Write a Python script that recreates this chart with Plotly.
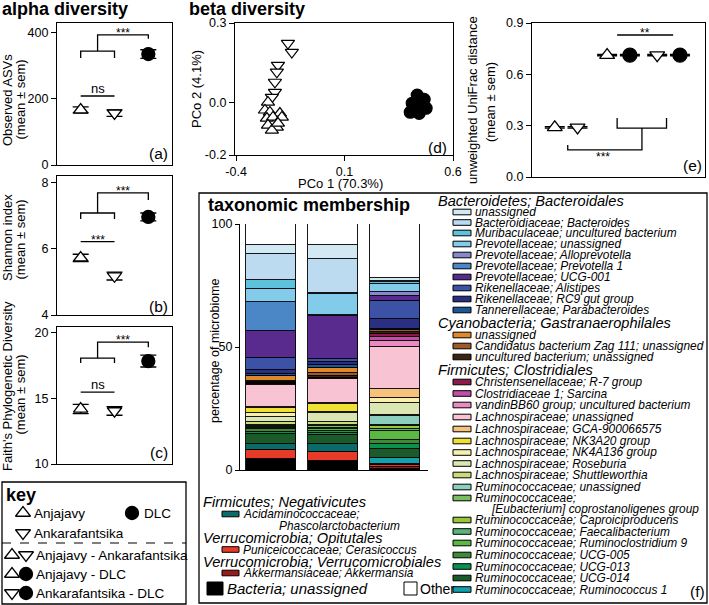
import plotly.graph_objects as go

W, H = 709, 605
FONT = "Liberation Sans"

# ================= (a)-(c) alpha diversity =================
site_names = ["Anjajavy", "Ankarafantsika", "DLC"]
site_pos = [1, 2, 3]
site_symbols = ["triangle-up", "triangle-down", "circle"]
site_fills = ["white", "white", "black"]

asv_mean = [167, 157, 336]
asv_sem = [9, 10, 13]
shannon_mean = [5.73, 5.18, 6.97]
shannon_sem = [0.11, 0.12, 0.12]
faith_mean = [14.2, 14.05, 17.85]
faith_sem = [0.35, 0.33, 0.45]

asv_ticks = [0, 200, 400]
shannon_ticks = [4, 6, 8]
faith_ticks = [10, 15, 20]

# significance bracket heights: pair line, leg bottom, leg top, bracket top, right-leg bottom
asv_sig = [209, 324, 345, 394, 382]
shannon_sig = [6.22, 6.91, 7.09, 7.70, 7.48]
faith_sig = [15.48, 17.70, 18.07, 19.29, 18.90]
pair_sig_labels = ["ns", "***", "ns"]
group_sig_labels = ["***", "***", "***"]

# ================= (d) beta diversity PCoA =================
anj_pc1 = [-0.253, -0.267, -0.244, -0.198, -0.258, -0.230, -0.189, -0.253, -0.212, -0.235, -0.207]
anj_pc2 = [0.000, -0.030, -0.038, -0.042, -0.061, -0.057, -0.057, -0.087, -0.095, -0.106, -0.080]
ank_pc1 = [-0.161, -0.143, -0.207, -0.212, -0.221, -0.221, -0.235]
ank_pc2 = [0.223, 0.189, 0.140, 0.114, 0.076, 0.038, 0.019]
dlc_pc1 = [0.435, 0.467, 0.412, 0.444, 0.403, 0.444, 0.476]
dlc_pc2 = [0.027, 0.011, -0.004, -0.019, -0.038, -0.042, -0.023]

# ================= (e) unweighted UniFrac =================
comp_names = ["Anjajavy - Ankarafantsika", "Anjajavy - DLC", "Ankarafantsika - DLC"]
comp_left_symbol = ["triangle-up", "triangle-up", "triangle-down"]
comp_left_fill = ["white", "white", "white"]
comp_right_symbol = ["triangle-down", "circle", "circle"]
comp_right_fill = ["white", "black", "black"]
comp_left_x = [1, 3.3, 5.5]
comp_right_x = [2, 4.3, 6.5]
unifrac_mean = [0.290, 0.712, 0.712]
unifrac_sem = [0.004, 0.004, 0.004]

# ================= (f) taxonomic membership =================
bar_sites = [0, 1, 2]
taxa = [
    "Bacteroidales unassigned", "Bacteroidiaceae; Bacteroides", "Muribaculaceae; uncultured bacterium",
    "Prevotellaceae; unassigned", "Prevotellaceae; Alloprevotella", "Prevotellaceae; Prevotella 1",
    "Prevotellaceae; UCG-001", "Rikenellaceae; Alistipes", "Rikenellaceae; RC9 gut group",
    "Tannerellaceae; Parabacteroides", "Gastranaerophilales unassigned",
    "Candidatus bacterium Zag 111; unassigned", "uncultured bacterium; unassigned",
    "Christensenellaceae; R-7 group", "Clostridiaceae 1; Sarcina", "vandinBB60 group; uncultured bacterium",
    "Lachnospiraceae; unassigned", "Lachnospiraceae; GCA-900066575", "Lachnospiraceae; NK3A20 group",
    "Lachnospiraceae; NK4A136 group", "Lachnospiraceae; Roseburia", "Lachnospiraceae; Shuttleworthia",
    "Ruminococcaceae; unassigned", "Ruminococcaceae; [Eubacterium] coprostanoligenes group",
    "Ruminococcaceae; Caproiciproducens", "Ruminococcaceae; Faecalibacterium",
    "Ruminococcaceae; Ruminoclostridium 9", "Ruminococcaceae; UCG-005", "Ruminococcaceae; UCG-013",
    "Ruminococcaceae; UCG-014", "Ruminococcaceae; Ruminococcus 1",
    "Acidaminococcaceae; Phascolarctobacterium", "Puniceicoccaceae; Cerasicoccus",
    "Akkermansiaceae; Akkermansia", "Bacteria; unassigned", "Other",
]
taxa_colors = [
    "#d2e8f2", "#bcdaf0", "#5ec2dc", "#82cbea", "#8787cc", "#4b87c6", "#5a2b8e", "#3b52a6",
    "#2b2f82", "#1b5794", "#e0892c", "#9b5b2a", "#3b2412", "#8c1a4a", "#c24fa6", "#e98bc0",
    "#f8c3d3", "#f7c279", "#efe032", "#f7efae", "#dbe7b3", "#c9dc76", "#8ccfbf", "#79bf5f",
    "#99c73a", "#5ab37a", "#5bb843", "#3d8b37", "#0d8f4f", "#1b5b2b", "#12a1ad", "#0b6b6b",
    "#e73b29", "#9b1a1a", "#000000", "#ffffff",
]
pct_anjajavy = [3.4, 10.5, 3.8, 5.2, 0.3, 11.6, 10.9, 5.0, 1.5, 0.9, 1.9, 0.6, 0.5, 0.2, 0.1, 0.2,
                9.2, 0.3, 2.0, 1.8, 1.9, 1.4, 0.4, 0.3, 0.2, 0.2, 0.4, 1.3, 0.7, 4.1, 0.0, 2.3,
                3.8, 0.0, 4.4, 8.7]
pct_ankarafantsika = [5.6, 13.8, 0.4, 8.6, 0.2, 0.3, 17.4, 1.1, 1.2, 1.4, 1.8, 1.4, 0.9, 0.1, 0.1, 0.1,
                      9.9, 0.2, 3.4, 0.4, 3.4, 1.4, 0.6, 0.5, 0.2, 0.3, 0.8, 0.8, 0.8, 3.8, 0.0, 3.0,
                      3.7, 0.0, 3.8, 8.6]
pct_dlc = [1.5, 0.3, 0.7, 3.5, 1.4, 0.2, 2.0, 7.1, 4.1, 0.3, 0.3, 0.5, 1.0, 1.4, 1.4, 2.7,
           17.0, 3.4, 0.3, 2.0, 4.8, 0.4, 3.6, 0.6, 1.0, 1.0, 3.6, 1.6, 2.0, 3.8, 2.3, 0.2,
           0.8, 0.9, 0.5, 21.8]

# legend texts (right column = taxa 0..30)
legend_right_text = [
    "unassigned", "Bacteroidiaceae; Bacteroides", "Muribaculaceae; uncultured bacterium",
    "Prevotellaceae; unassigned", "Prevotellaceae; Alloprevotella", "Prevotellaceae; Prevotella 1",
    "Prevotellaceae; UCG-001", "Rikenellaceae; Alistipes", "Rikenellaceae; RC9 gut group",
    "Tannerellaceae; Parabacteroides", "unassigned", "Candidatus bacterium Zag 111; unassigned",
    "uncultured bacterium; unassigned", "Christensenellaceae; R-7 group", "Clostridiaceae 1; Sarcina",
    "vandinBB60 group; uncultured bacterium", "Lachnospiraceae; unassigned",
    "Lachnospiraceae; GCA-900066575", "Lachnospiraceae; NK3A20 group", "Lachnospiraceae; NK4A136 group",
    "Lachnospiraceae; Roseburia", "Lachnospiraceae; Shuttleworthia", "Ruminococcaceae; unassigned",
    "Ruminococcaceae;", "Ruminococcaceae; Caproiciproducens", "Ruminococcaceae; Faecalibacterium",
    "Ruminococcaceae; Ruminoclostridium 9", "Ruminococcaceae; UCG-005", "Ruminococcaceae; UCG-013",
    "Ruminococcaceae; UCG-014", "Ruminococcaceae; Ruminococcus 1",
]
legend_right_y = [212, 222.5, 233, 244, 255, 266, 277, 288, 299, 310, 335, 346, 357, 382, 393.5, 405,
                  417, 429, 441, 452.5, 463.5, 475, 487, 498, 520, 531.5, 543, 555, 566.5, 578, 589.5]
legend_headers = ["Bacteroidetes; Bacteroidales", "Cyanobacteria; Gastranaerophilales",
                  "Firmicutes; Clostridiales"]
legend_headers_y = [201, 323, 370]

ITEM = 11.9
HDR = 14.6

# ================= helpers =================
def px_x(x):
    return x / W


def px_y(y):
    return 1 - y / H


annotations = []
shapes = []


def text(x, y, s, size=12, xanchor="left", yanchor="middle", angle=0, xref="paper", yref="paper",
         yshift=0, bold=False, italic=False):
    if bold:
        s = "<b>" + s + "</b>"
    if italic:
        s = "<i>" + s + "</i>"
    annotations.append(dict(
        x=px_x(x) if xref == "paper" else x, y=px_y(y) if yref == "paper" else y,
        xref=xref, yref=yref, text=s, showarrow=False, xanchor=xanchor, yanchor=yanchor,
        textangle=angle, yshift=yshift, borderpad=0,
        font=dict(family=FONT, size=size, color="black")))


axis_common = dict(showline=True, linecolor="black", linewidth=1.3, showgrid=False, zeroline=False,
                   ticks="outside", ticklen=5, tickwidth=1.3, tickcolor="black", automargin=False,
                   tickfont=dict(family=FONT, size=12.5, color="black"))

fig = go.Figure()
layout_axes = {}

# ---------- alpha panels ----------
alpha_panels = [
    ("", asv_mean, asv_sem, [0, 430], asv_ticks, 23, 165, asv_sig, "Observed ASVs", 100, 100, "(a)", 154),
    ("2", shannon_mean, shannon_sem, [4, 8.21], shannon_ticks, 176, 315, shannon_sig, "Shannon index", 238, 240, "(b)", 306),
    ("3", faith_mean, faith_sem, [10, 20.45], faith_ticks, 327, 464, faith_sig, "Faith's Phylogenetic Diversity", 386, 395, "(c)", 452),
]
for i, (n, mean, sem, yr, tv, top, bot, sig, ytitle, ty1, ty2, lab, laby) in enumerate(alpha_panels):
    xa, ya = "x" + n, "y" + n
    fig.add_trace(go.Scatter(
        x=site_pos, y=mean, mode="markers", xaxis=xa, yaxis=ya, cliponaxis=False,
        marker=dict(symbol=site_symbols, color=site_fills, size=[12.5, 12.5, 13], opacity=1,
                    line=dict(color="black", width=1.3)),
        error_y=dict(type="data", array=sem, color="black", thickness=1.3, width=8),
        showlegend=False))
    layout_axes["xaxis" + n] = dict(axis_common, domain=[px_x(57), px_x(172)], range=[0.3, 3.7],
                                    showticklabels=False, ticks="", mirror=True, anchor=ya)
    layout_axes["yaxis" + n] = dict(axis_common, domain=[px_y(bot), px_y(top)], range=yr,
                                    tickvals=tv, mirror=True, anchor=xa)
    p, lo, hi, tp, rlo = sig
    shapes.append(dict(type="path", xref=xa, yref=ya, line=dict(color="black", width=1.3),
                       path=f"M 1,{p} L 2,{p}"))
    shapes.append(dict(type="path", xref=xa, yref=ya, line=dict(color="black", width=1.3),
                       path=f"M 1,{lo} L 1,{hi} L 2,{hi} L 2,{lo} M 1.5,{hi} L 1.5,{tp} L 3,{tp} L 3,{rlo}"))
    if pair_sig_labels[i] == "ns":
        text(1.5, p, "ns", size=13, xanchor="center", yanchor="bottom", xref=xa, yref=ya, yshift=-1)
    else:
        text(1.5, p, pair_sig_labels[i], size=12, xanchor="center", yanchor="bottom", xref=xa, yref=ya, yshift=-6)
    text(2.25, tp, group_sig_labels[i], size=12, xanchor="center", yanchor="bottom", xref=xa, yref=ya, yshift=-6)
    text(7, ty1, ytitle, size=13, xanchor="center", angle=-90)
    text(19.5, ty2, "(mean ± sem)", size=13, xanchor="center", angle=-90)
    text(169, laby, lab, size=15.5, xanchor="right")

text(1, 9, "alpha diversity", size=18, bold=True)

# ---------- (d) PCoA ----------
for xs, ys, sym, fill, sz in [(ank_pc1, ank_pc2, "triangle-down", "white", 11.5),
                              (anj_pc1, anj_pc2, "triangle-up", "white", 11.5),
                              (dlc_pc1, dlc_pc2, "circle", "black", 12)]:
    fig.add_trace(go.Scatter(x=xs, y=ys, mode="markers", xaxis="x4", yaxis="y4",
                             marker=dict(symbol=sym, color=fill, size=sz, opacity=1,
                                         line=dict(color="black", width=1.2)),
                             showlegend=False))
layout_axes["xaxis4"] = dict(axis_common, domain=[px_x(235), px_x(453)], range=[-0.405, 0.6],
                             tickvals=[-0.4, 0.1, 0.6], ticktext=["-0.4", "0.1", "0.6"],
                             mirror=True, anchor="y4")
layout_axes["yaxis4"] = dict(axis_common, domain=[px_y(155), px_y(23)], range=[-0.2, 0.3],
                             tickvals=[-0.2, 0.0, 0.3], ticktext=["-0.2", "0.0", "0.3"],
                             mirror=True, anchor="x4")
text(188, 9, "beta diversity", size=18, bold=True)
text(196, 89, "PCo 2 (4.1%)", size=13, xanchor="center", angle=-90)
text(340, 184, "PCo 1 (70.3%)", size=13, xanchor="center")
text(448, 147, "(d)", size=15.5, xanchor="right")

# ---------- (e) UniFrac ----------
fig.add_trace(go.Scatter(
    x=comp_left_x + comp_right_x, y=unifrac_mean + unifrac_mean, mode="markers",
    xaxis="x5", yaxis="y5",
    marker=dict(symbol=comp_left_symbol + comp_right_symbol, color=comp_left_fill + comp_right_fill,
                size=[13, 13, 13, 13, 14, 14], opacity=1, line=dict(color="black", width=1.3)),
    error_y=dict(type="data", array=unifrac_sem + unifrac_sem, color="black", thickness=1.3, width=10),
    showlegend=False))
layout_axes["xaxis5"] = dict(axis_common, domain=[px_x(532), px_x(705)], range=[0, 7.6],
                             showticklabels=False, ticks="", mirror=True, anchor="y5")
layout_axes["yaxis5"] = dict(axis_common, domain=[px_y(177), px_y(23)], range=[0, 0.9],
                             tickvals=[0, 0.3, 0.6, 0.9], ticktext=["0.0", "0.3", "0.6", "0.9"],
                             mirror=True, anchor="x5")
shapes.append(dict(type="path", xref="x5", yref="y5", line=dict(color="black", width=1.3),
                   path="M 3.74,0.83 L 6.2,0.83"))
shapes.append(dict(type="path", xref="x5", yref="y5", line=dict(color="black", width=1.3),
                   path="M 3.74,0.345 L 3.74,0.286 L 5.91,0.286 L 5.91,0.345 "
                        "M 4.83,0.286 L 4.83,0.158 L 1.57,0.158 L 1.57,0.187"))
text(4.97, 0.83, "**", size=12, xanchor="center", yanchor="bottom", xref="x5", yref="y5", yshift=-6)
text(3.1, 0.158, "***", size=12, xanchor="center", yanchor="top", xref="x5", yref="y5", yshift=1)
text(472, 100, "unweighted UniFrac distance", size=13, xanchor="center", angle=-90)
text(490, 102, "(mean ± sem)", size=13, xanchor="center", angle=-90)
text(703, 165, "(e)", size=15.5, xanchor="right")

# ---------- (f) stacked bars ----------
stack_order = list(range(len(taxa) - 2, -1, -1)) + [len(taxa) - 1]
for k in stack_order:
    fig.add_trace(go.Bar(
        x=bar_sites, y=[pct_anjajavy[k], pct_ankarafantsika[k], pct_dlc[k]],
        name=taxa[k], marker=dict(color=taxa_colors[k], line=dict(color="black", width=0.9)),
        width=0.8, xaxis="x6", yaxis="y6", showlegend=False))
fig.add_trace(go.Scatter(
    x=bar_sites, y=[-6.3] * 3, mode="markers", xaxis="x6", yaxis="y6", cliponaxis=False,
    marker=dict(symbol=site_symbols, color=site_fills, size=[14, 14, 14], opacity=1,
                line=dict(color="black", width=1.3)), showlegend=False))
layout_axes["xaxis6"] = dict(axis_common, domain=[px_x(240), px_x(428)], range=[-0.5, 2.53],
                             showticklabels=False, ticks="", anchor="y6")
layout_axes["yaxis6"] = dict(axis_common, domain=[px_y(470), px_y(224)], range=[0, 100],
                             tickvals=[0, 50, 100], ticklen=4, anchor="x6")
text(215, 350, "percentage of microbiome", size=12.5, xanchor="center", angle=-90)
text(207, 205, "taxonomic membership", size=18, bold=True)
shapes.append(dict(type="rect", xref="paper", yref="paper", x0=px_x(199), x1=px_x(707),
                   y0=px_y(603), y1=px_y(193), line=dict(color="black", width=1.3)))

# right legend column
for hdr, hy in zip(legend_headers, legend_headers_y):
    text(437, hy, hdr, size=HDR, italic=True)
for k, (lbl, ly) in enumerate(zip(legend_right_text, legend_right_y)):
    shapes.append(dict(type="rect", xref="paper", yref="paper", x0=px_x(453), x1=px_x(471),
                       y0=px_y(ly + 2.8), y1=px_y(ly - 2.8), fillcolor=taxa_colors[k],
                       line=dict(color="black", width=1)))
    text(474, ly, lbl, size=ITEM, italic=True)
text(490, 509, "[Eubacterium] coprostanoligenes group", size=ITEM, italic=True)
text(706, 591, "(f)", size=15.5, xanchor="right")

# left-bottom legend
left_hdrs = ["Firmicutes; Negativicutes", "Verrucomicrobia; Opitutales", "Verrucomicrobia; Verrucomicrobiales"]
left_hdrs_y = [502, 537.5, 561.5]
for hdr, hy in zip(left_hdrs, left_hdrs_y):
    text(202, hy, hdr, size=HDR, italic=True)
for k, ly, lbl in [(31, 514, "Acidaminococcaceae;"), (32, 549.5, "Puniceicoccaceae; Cerasicoccus"),
                   (33, 573, "Akkermansiaceae; Akkermansia")]:
    shapes.append(dict(type="rect", xref="paper", yref="paper", x0=px_x(222), x1=px_x(239),
                       y0=px_y(ly + 2.8), y1=px_y(ly - 2.8), fillcolor=taxa_colors[k],
                       line=dict(color="black", width=1)))
    text(242, ly, lbl, size=ITEM, italic=True)
text(278, 526, "Phascolarctobacterium", size=ITEM, italic=True)
shapes.append(dict(type="rect", xref="paper", yref="paper", x0=px_x(207), x1=px_x(223),
                   y0=px_y(595), y1=px_y(582), fillcolor=taxa_colors[34], line=dict(color="black", width=1)))
text(226, 588.5, "Bacteria; unassigned", size=15, italic=True)
shapes.append(dict(type="rect", xref="paper", yref="paper", x0=px_x(404), x1=px_x(417),
                   y0=px_y(595), y1=px_y(582), fillcolor=taxa_colors[35], line=dict(color="black", width=1)))
text(419, 588.5, "Other", size=14)

# ---------- key ----------
shapes.append(dict(type="rect", xref="paper", yref="paper", x0=px_x(2), x1=px_x(186),
                   y0=px_y(604), y1=px_y(482), line=dict(color="black", width=1.3)))
shapes.append(dict(type="line", xref="paper", yref="paper", x0=px_x(2), x1=px_x(186),
                   y0=px_y(543), y1=px_y(543), line=dict(color="black", width=1.2, dash="dash")))
text(5, 495, "key", size=18, bold=True)
key_sym_x = [23, 132, 23, 12, 26, 12, 26, 12, 26]
key_sym_y = [513, 513, 533, 555, 555, 574, 574, 593, 593]
key_sym = ["triangle-up", "circle", "triangle-down", "triangle-up", "triangle-down",
           "triangle-up", "circle", "triangle-down", "circle"]
key_fill = ["white", "black", "white", "white", "white", "white", "black", "white", "black"]
fig.add_trace(go.Scatter(x=key_sym_x, y=key_sym_y, mode="markers", xaxis="x7", yaxis="y7",
                         marker=dict(symbol=key_sym, color=key_fill, size=13, opacity=1,
                                     line=dict(color="black", width=1.3)),
                         cliponaxis=False, showlegend=False))
layout_axes["xaxis7"] = dict(domain=[0, 1], range=[0, W], visible=False, anchor="y7", automargin=False)
layout_axes["yaxis7"] = dict(domain=[0, 1], range=[H, 0], visible=False, anchor="x7", automargin=False)
for s, x, y in [("Anjajavy", 33, 513), ("DLC", 143, 513), ("Ankarafantsika", 33, 533),
                (comp_names[0], 35, 555), (comp_names[1], 35, 574), (comp_names[2], 35, 593)]:
    text(x, y, s, size=13.5)

fig.update_layout(
    template="none",
    width=W, height=H, autosize=False, margin=dict(l=0, r=0, t=0, b=0, pad=0, autoexpand=False),
    paper_bgcolor="white", plot_bgcolor="rgba(0,0,0,0)", barmode="stack", bargap=0,
    font=dict(family=FONT, color="black"), showlegend=False,
    annotations=annotations, shapes=shapes, **layout_axes)

fig.write_html("out.html", config={"displayModeBar": False},
               post_script="document.body.style.margin='0';document.body.style.padding='0';"
                           "document.documentElement.style.overflow='hidden';")
